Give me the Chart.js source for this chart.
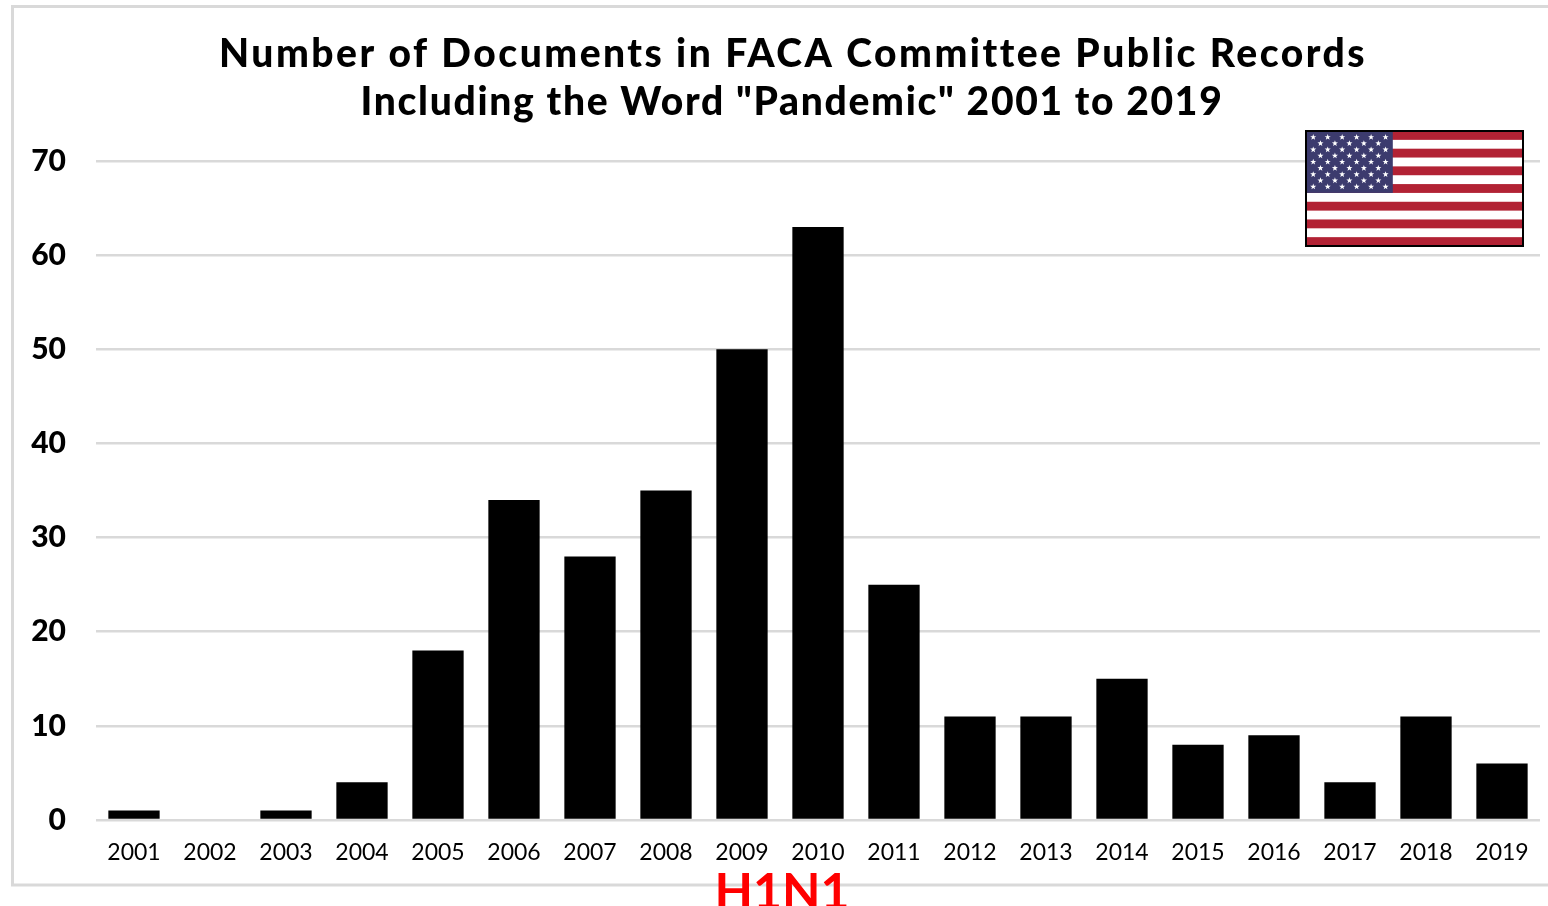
<!DOCTYPE html>
<html><head><meta charset="utf-8">
<style>html,body{margin:0;padding:0;background:#fff;overflow:hidden}canvas{display:block}</style>
<script src="https://cdn.jsdelivr.net/npm/chart.js@4"></script>
</head><body>
<canvas id="c" width="1548" height="906"></canvas>
<script>
const years = ["2001","2002","2003","2004","2005","2006","2007","2008","2009","2010","2011","2012","2013","2014","2015","2016","2017","2018","2019"];
const documents = [1,0,1,4,18,34,28,35,50,63,25,11,11,15,8,9,4,11,6];
const titleLines = ['Number of Documents in FACA Committee Public Records','Including the Word "Pandemic" 2001 to 2019'];
const annotation = "H1N1";
const FONT = 'Lato, "Noto Sans", sans-serif';

function drawFlag(ctx, x, y, w, h) {
  const sh = h / 13;
  ctx.fillStyle = '#fff';
  ctx.fillRect(x, y, w, h);
  ctx.fillStyle = '#B22234';
  for (let i = 0; i < 13; i += 2) ctx.fillRect(x, y + i * sh, w, sh);
  const cw = w * 0.4, ch = sh * 7;
  ctx.fillStyle = '#3C3B6E';
  ctx.fillRect(x, y, cw, ch);
  ctx.fillStyle = '#fff';
  for (let r = 0; r < 9; r++) {
    const n = r % 2 ? 5 : 6;
    for (let s = 0; s < n; s++) {
      const cx = x + cw * (r % 2 ? (s + 1) : s + 0.5) / 6;
      const cy = y + ch * (r + 1) / 10;
      ctx.beginPath();
      for (let k = 0; k < 10; k++) {
        const rad = k % 2 ? 1.3 : 3.2, a = -Math.PI / 2 + k * Math.PI / 5;
        ctx.lineTo(cx + rad * Math.cos(a), cy + rad * Math.sin(a));
      }
      ctx.closePath();
      ctx.fill();
    }
  }
  ctx.strokeStyle = '#000';
  ctx.lineWidth = 2;
  ctx.strokeRect(x, y, w, h);
}

const decor = {
  id: 'decor',
  beforeDraw(chart) {
    const ctx = chart.ctx;
    ctx.save();
    ctx.fillStyle = '#fff';
    ctx.fillRect(0, 0, chart.width, chart.height);
    ctx.strokeStyle = '#d9d9d9';
    ctx.lineWidth = 3;
    ctx.beginPath();
    ctx.moveTo(1548, 6.5); ctx.lineTo(12.5, 6.5); ctx.lineTo(12.5, 885); ctx.lineTo(1548, 885);
    ctx.stroke();
    ctx.restore();
  },
  afterDraw(chart) {
    const ctx = chart.ctx;
    ctx.save();
    ctx.fillStyle = '#000';
    ctx.textAlign = 'center';
    ctx.textBaseline = 'alphabetic';
    ctx.font = '900 39px ' + FONT;
    ctx.letterSpacing = '2.5px';
    ctx.fillText(titleLines[0], 793, 67);
    ctx.letterSpacing = '1.7px';
    ctx.fillText(titleLines[1], 792, 115);
    drawFlag(ctx, 1306, 131, 217, 115);
    ctx.fillStyle = '#ff0000';
    ctx.font = 'bold 50px ' + FONT;
    ctx.letterSpacing = '0px';
    ctx.fillText(annotation, 782, 909);
    ctx.restore();
  }
};

new Chart(document.getElementById('c'), {
  type: 'bar',
  data: { labels: years, datasets: [{ data: documents, backgroundColor: '#000', barPercentage: 1, categoryPercentage: 0.675 }] },
  options: {
    responsive: false, animation: false, devicePixelRatio: 1,
    layout: { padding: { left: 0, right: 8, top: 161, bottom: 0 } },
    plugins: { legend: { display: false }, title: { display: false }, tooltip: { enabled: false } },
    scales: {
      x: {
        grid: { display: false }, border: { display: false },
        ticks: { color: '#000', font: { family: FONT, size: 23 }, padding: 11, maxRotation: 0, autoSkip: false },
        afterFit(s) { s.height = 86; }
      },
      y: {
        min: 0, max: 70,
        grid: { color: '#d9d9d9', lineWidth: 2.5, drawTicks: false },
        border: { display: false },
        ticks: { color: '#000', stepSize: 10, padding: 30, font: { family: FONT, size: 30, weight: '900' } },
        afterFit(s) { s.width = 96; }
      }
    }
  },
  plugins: [decor]
});
</script>
</body></html>
